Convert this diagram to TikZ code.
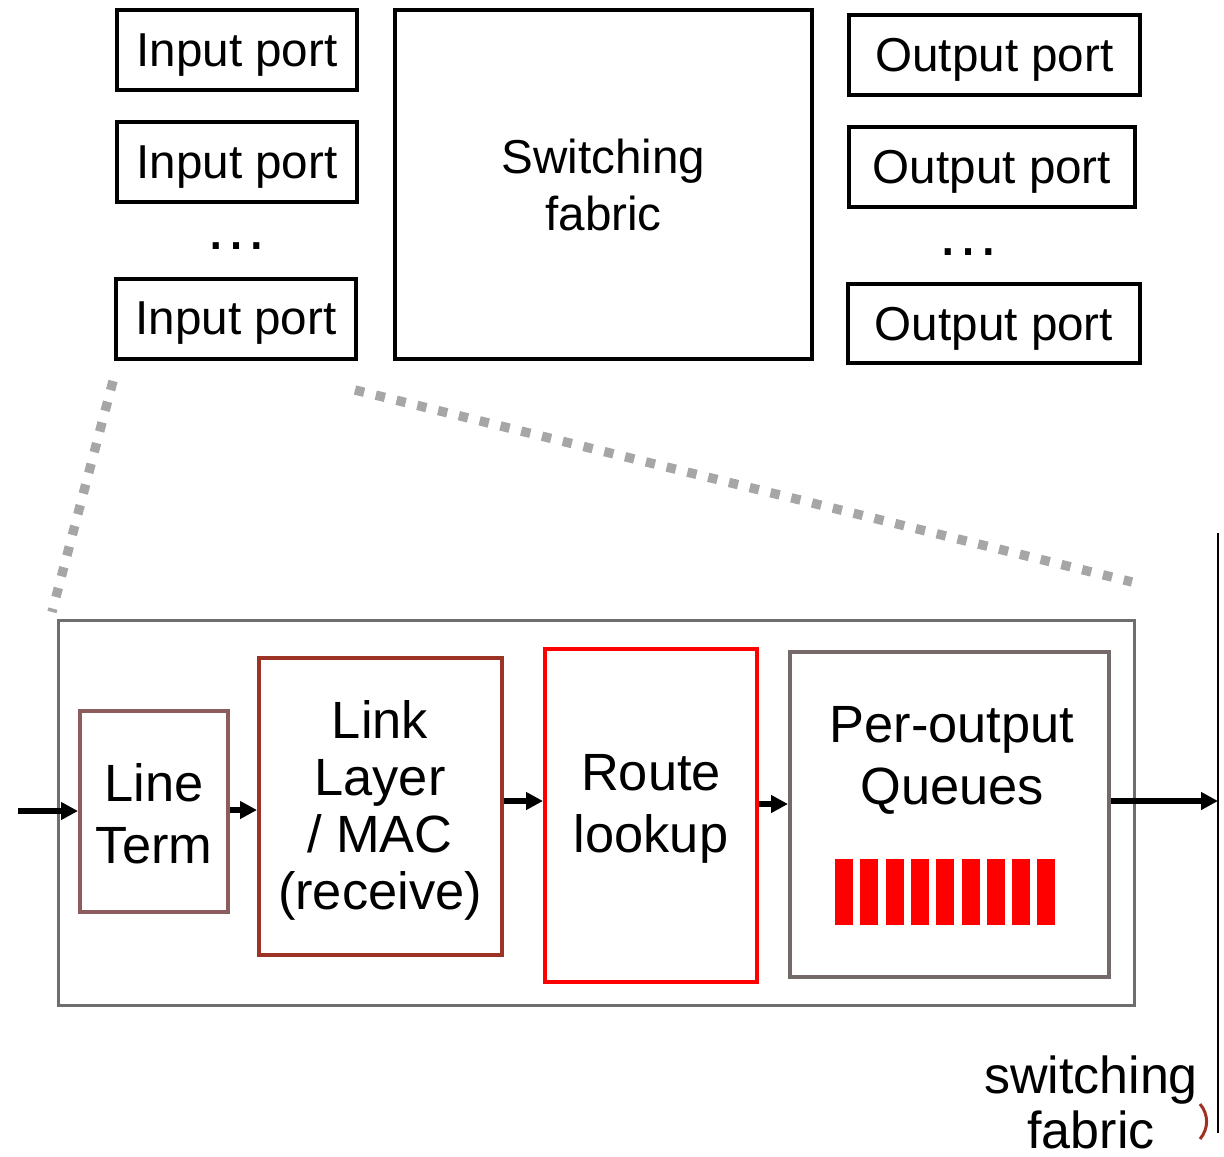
\documentclass[tikz,border=0pt]{standalone}
\usepackage{fontspec}
\setmainfont{Liberation Sans}
\usetikzlibrary{arrows.meta}

\definecolor{termcol}{HTML}{8C5D5D}
\definecolor{maccol}{HTML}{9C3325}
\definecolor{lookcol}{HTML}{FF0000}
\definecolor{queuecol}{HTML}{746A6A}
\definecolor{boxcol}{HTML}{6E6E6E}
\definecolor{zoomcol}{HTML}{A6A6A6}

\newcommand{\smalltxt}{\fontsize{23.8}{28.5}\selectfont}
\newcommand{\bigtxt}{\fontsize{26.2}{31}\selectfont}
\newcommand{\mactxt}{\fontsize{26.2}{28.5}\selectfont}
\newcommand{\sftxt}{\fontsize{26}{27.5}\selectfont}
\newcommand{\dotstxt}{\fontsize{32}{32}\selectfont}

\tikzset{
  port/.style={draw, line width=2pt, minimum width=120pt, minimum height=40pt, inner sep=0pt, text depth=0pt, font=\smalltxt},
  stage/.style={draw, line width=2pt, inner sep=0pt, align=center, font=\bigtxt},
  label/.style={align=center, font=\bigtxt, inner sep=0pt},
  flow/.style={-{Triangle[length=8.5pt,width=8.5pt]}, line width=3pt},
}

\begin{document}
\begin{tikzpicture}[x=0.5pt,y=-0.5pt]
\useasboundingbox (0,0) rectangle (1224,1156);

  \node[port]                         (in1)  at (237,50)    {Input port};
  \node[port]                         (in2)  at (237,162)   {Input port};
  \node[font=\dotstxt, anchor=base, inner sep=0pt] (indots) at (236,249) {…};
  \node[port]                         (in3)  at (236,318.5) {Input port};

  \node[port, minimum width=208.5pt, minimum height=174.5pt, text depth=, align=center]
                                      (fab)  at (603.5,184.5) {Switching\\fabric};

  \node[port, minimum width=145.5pt]  (out1) at (994.5,55)  {Output port};
  \node[port, minimum width=143pt]    (out2) at (992,167)   {Output port};
  \node[font=\dotstxt, anchor=base, inner sep=0pt] (outdots) at (968,255) {…};
  \node[port, minimum width=146pt, minimum height=39.5pt]
                                      (out3) at (994,323.5) {Output port};

  \coordinate (zl1) at (113,381);
  \coordinate (zl2) at (52,612);
  \coordinate (zr1) at (355,390);
  \coordinate (zr2) at (1132,582);
  \path[draw=zoomcol, line width=4.7pt, dash pattern=on 4.7pt off 6pt]
        (zl1) -- (zl2)
        (zr1) -- (zr2);

  \node[draw=boxcol, line width=1.5pt, minimum width=538pt, minimum height=192.5pt]
                                      (port) at (596,812.5) {};

  \node[stage, draw=termcol, minimum width=74pt, minimum height=100.5pt]
                                      (lterm) at (154,811.5) {};
  \node[label] (ltermtxt) at (154,814) {Line\\Term};
  \node[stage, draw=maccol, minimum width=121.5pt, minimum height=148.5pt]
                                      (mac)   at (380.5,806.5) {};
  \node[label, font=\mactxt] (mactxt) at (380,810) {Link\\Layer\\/ MAC\\(receive)};
  \node[stage, draw=lookcol, minimum width=106pt, minimum height=166.5pt]
                                      (look)  at (651,815.5) {};
  \node[label] (looktxt) at (651,809) {Route\\lookup};
  \node[stage, draw=queuecol, minimum width=159.5pt, minimum height=162.5pt]
                                      (queue) at (949.5,814.5) {};
  \node[label] (queuetxt) at (952,760) {Per-output\\Queues};
  \foreach \i in {0,...,8}
    \fill[lookcol] (835+\i*25.3,859) rectangle ++(18,66);

  \coordinate (inp) at (18,811);
  \coordinate (sftop) at (1218,533);
  \coordinate (sfbot) at (1218,1133);
  \draw[line width=1pt] (sftop) -- (sfbot);

  \draw[flow] (inp) -- (lterm.west |- inp);
  \draw[flow] (lterm.east |- 0,810) -- (mac.west |- 0,810);
  \draw[flow] (mac.east |- 0,801) -- (look.west |- 0,801);
  \draw[flow] (look.east |- 0,804) -- (queue.west |- 0,804);
  \draw[flow] (queue.east |- 0,801) -- (sftop |- 0,801);

  \node[label, font=\sftxt] (sftxt) at (1091,1102) {switching\\fabric};
  \draw[maccol, line width=1.5pt] (1200,1104) to[bend left=40] (1200,1139);
\end{tikzpicture}
\end{document}
